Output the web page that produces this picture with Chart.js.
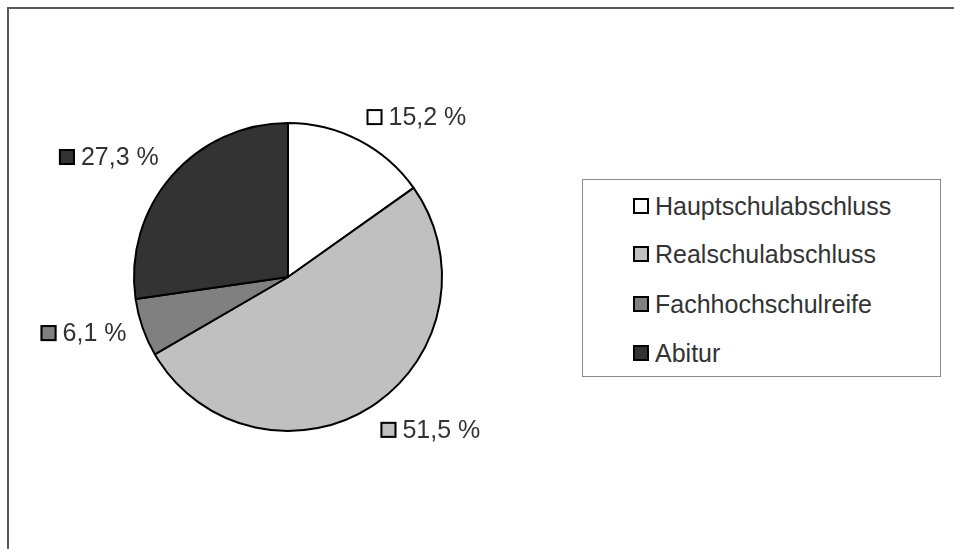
<!DOCTYPE html>
<html>
<head>
<meta charset="utf-8">
<script src="https://cdn.jsdelivr.net/npm/chart.js@4"></script>
<style>
  html, body { margin: 0; padding: 0; background: #fff; }
  body { width: 954px; height: 549px; position: relative; overflow: hidden;
         font-family: "Liberation Sans", Arial, sans-serif; }
  #frame { position: absolute; left: 7px; top: 7px; right: -4px; bottom: -4px;
           border-left: 2px solid #5a5a5a; border-top: 2px solid #5a5a5a; }
  #chart { position: absolute; left: 0; top: 0; }
  #legend { position: absolute; left: 582px; top: 179px; width: 357px; height: 196px;
            border: 1px solid #8a8a8a; background: #fff; }
  .item { position: absolute; left: 50px; height: 20px; display: flex; align-items: center;
          font-size: 25px; color: #333; white-space: nowrap; }
  .box { width: 12px; height: 12px; border: 2px solid #000; margin-right: 6px; }
</style>
</head>
<body>
<div id="frame"></div>
<canvas id="chart" width="954" height="549"></canvas>
<div id="legend"></div>
<script>
// Schulabschlüsse – Anteile in Prozent
const labels = ["Hauptschulabschluss", "Realschulabschluss", "Fachhochschulreife", "Abitur"];
const values = [15.2, 51.5, 6.1, 27.3];
const colors = ["#ffffff", "#c0c0c0", "#808080", "#333333"];

// Legende (HTML, aus denselben Arrays)
const legend = document.getElementById("legend");
const rowTops = [16, 64, 114, 163];
labels.forEach((name, i) => {
    const div = document.createElement("div");
    div.className = "item";
    div.style.top = rowTops[i] + "px";
    div.innerHTML = `<span class="box" style="background:${colors[i]}"></span>${name}`;
    legend.appendChild(div);
});

// Datenbeschriftungen außerhalb der Segmente
const outsideLabels = {
    id: "outsideLabels",
    afterDatasetsDraw(chart) {
        const ctx = chart.ctx;
        const meta = chart.getDatasetMeta(0);
        ctx.save();
        ctx.font = "25px 'Liberation Sans', Arial, sans-serif";
        ctx.textBaseline = "middle";
        meta.data.forEach((arc, i) => {
            const p = arc.getProps(["x", "y", "startAngle", "endAngle", "outerRadius"], true);
            const mid = (p.startAngle + p.endAngle) / 2;
            const r = p.outerRadius + 17;
            const ax = p.x + Math.cos(mid) * r;
            const ay = p.y + Math.sin(mid) * r;
            const text = values[i].toFixed(1).replace(".", ",") + " %";
            const sq = 16, gap = 6;
            const w = sq + gap + ctx.measureText(text).width;
            const x0 = Math.cos(mid) >= 0 ? ax : ax - w;
            const s = Math.sin(mid);
            let yc;
            if (s < -0.4) yc = ay - sq / 2;
            else if (s > 0.4) yc = ay + sq / 2 + 1;
            else yc = ay;
            ctx.fillStyle = colors[i];
            ctx.fillRect(x0, yc - sq / 2, sq, sq);
            ctx.lineWidth = 2;
            ctx.strokeStyle = "#000";
            ctx.strokeRect(x0 + 1, yc - sq / 2 + 1, sq - 2, sq - 2);
            ctx.fillStyle = "#333";
            ctx.textAlign = "left";
            ctx.fillText(text, x0 + sq + gap, yc + 1);
        });
        ctx.restore();
    }
};

const ctx = document.getElementById("chart").getContext("2d");
new Chart(ctx, {
    type: "pie",
    data: {
        labels: labels,
        datasets: [{
            data: values,
            backgroundColor: colors,
            borderColor: "#000",
            borderWidth: 2,
            radius: 154
        }]
    },
    options: {
        responsive: false,
        animation: false,
        layout: { padding: { left: 134, top: 123, right: 512, bottom: 118 } },
        plugins: {
            legend: { display: false },
            tooltip: { enabled: false }
        }
    },
    plugins: [outsideLabels]
});
</script>
</body>
</html>
